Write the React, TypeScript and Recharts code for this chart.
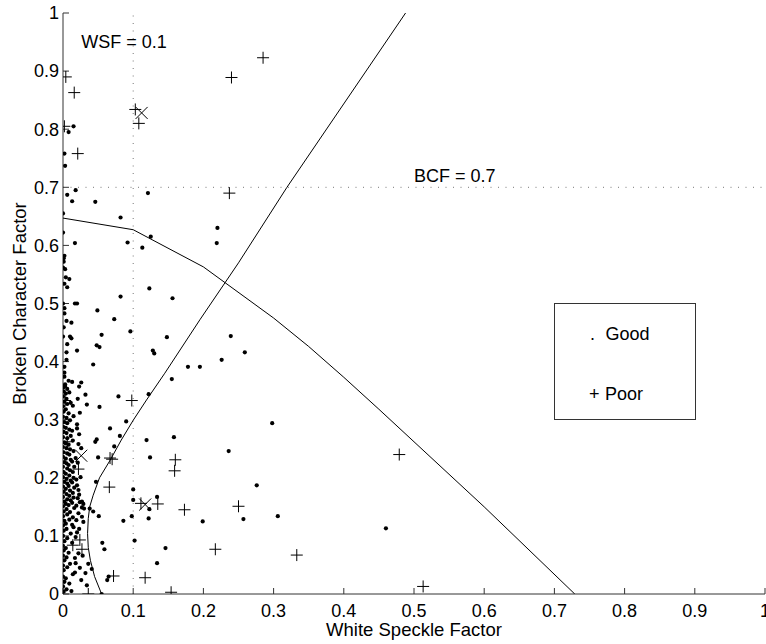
import React from 'react';
import { ScatterChart, Scatter, XAxis, YAxis, ReferenceLine, Legend } from 'recharts';

const FONT = 'Liberation Sans, Arial, Helvetica, sans-serif';

const axisTicks = [0, 0.1, 0.2, 0.3, 0.4, 0.5, 0.6, 0.7, 0.8, 0.9, 1];
const tickLabels = ['0', '0.1', '0.2', '0.3', '0.4', '0.5', '0.6', '0.7', '0.8', '0.9', '1'];

const wsfThreshold = 0.1;
const bcfThreshold = 0.7;

// "Good" samples [WSF, BCF]
const goodPoints: [number, number][] = [
  // upper region
  [0.018, 0.695], [0.006, 0.687], [0.013, 0.676], [0.046, 0.675], [0.121, 0.69], [0.0, 0.655],
  [0.082, 0.648], [0.125, 0.615], [0.0, 0.622], [0.017, 0.604], [0.092, 0.605], [0.113, 0.596],
  [0.22, 0.63], [0.219, 0.604], [0.002, 0.758], [0.003, 0.737], [0.015, 0.805], [0.008, 0.795],
  [0.002, 0.582], [0.001, 0.578], [0.001, 0.572], [0.0, 0.562], [0.003, 0.559], [0.004, 0.545],
  [0.009, 0.542], [0.002, 0.534], [0.006, 0.528], [0.123, 0.526], [0.156, 0.509], [0.082, 0.512],
  [0.0, 0.5], [0.017, 0.5], [0.02, 0.5], [0.002, 0.492], [0.049, 0.488], [0.002, 0.483],
  [0.073, 0.473], [0.005, 0.47], [0.012, 0.467], [0.001, 0.459], [0.096, 0.452], [0.055, 0.446],
  [0.148, 0.442], [0.239, 0.444], [0.0, 0.443], [0.01, 0.443], [0.012, 0.44], [0.006, 0.43],
  [0.048, 0.428], [0.052, 0.425], [0.02, 0.419], [0.005, 0.416], [0.128, 0.419], [0.13, 0.414],
  [0.259, 0.416], [0.226, 0.403], [0.005, 0.403], [0.043, 0.395], [0.178, 0.391], [0.195, 0.391],
  [0.002, 0.391], [0.002, 0.381], [0.155, 0.37], [0.002, 0.374], [0.008, 0.367], [0.013, 0.365],
  [0.026, 0.364], [0.003, 0.361], [0.023, 0.357], [0.001, 0.356],
  // lower region
  [0.298, 0.294], [0.158, 0.27], [0.236, 0.246], [0.276, 0.187], [0.199, 0.125], [0.257, 0.129],
  [0.306, 0.134], [0.146, 0.079], [0.46, 0.113],
  [0.032, 0.343], [0.034, 0.326], [0.079, 0.34], [0.052, 0.322], [0.122, 0.344], [0.09, 0.297],
  [0.02, 0.292], [0.067, 0.285], [0.081, 0.272], [0.119, 0.265], [0.048, 0.266], [0.046, 0.262],
  [0.023, 0.275], [0.073, 0.254], [0.124, 0.235], [0.05, 0.235], [0.018, 0.234], [0.019, 0.197],
  [0.047, 0.193], [0.1, 0.18], [0.022, 0.179], [0.1, 0.162], [0.123, 0.146], [0.038, 0.147],
  [0.043, 0.142], [0.051, 0.134], [0.098, 0.134], [0.086, 0.126], [0.027, 0.133], [0.029, 0.124],
  [0.013, 0.119], [0.102, 0.092], [0.056, 0.088], [0.059, 0.077], [0.134, 0.053], [0.022, 0.07],
  [0.017, 0.062], [0.028, 0.066], [0.018, 0.053], [0.036, 0.052], [0.041, 0.043], [0.017, 0.037],
  [0.032, 0.036], [0.065, 0.03], [0.026, 0.024], [0.034, 0.015], [0.063, 0.024], [0.055, 0.0],
  [0.134, 0.167], [0.122, 0.13],
  // dense column near WSF = 0
  [0.001, 0.004], [0.0, 0.013], [0.002, 0.021], [0.0, 0.03], [0.001, 0.041], [0.0, 0.049],
  [0.002, 0.058], [0.0, 0.066], [0.001, 0.075], [0.0, 0.083], [0.002, 0.091], [0.0, 0.1],
  [0.001, 0.109], [0.0, 0.118], [0.002, 0.126], [0.0, 0.134], [0.001, 0.142], [0.0, 0.151],
  [0.002, 0.159], [0.0, 0.167], [0.001, 0.176], [0.0, 0.185], [0.002, 0.193], [0.0, 0.201],
  [0.001, 0.21], [0.0, 0.219], [0.002, 0.227], [0.0, 0.236], [0.001, 0.244], [0.0, 0.253],
  [0.002, 0.261], [0.0, 0.27], [0.001, 0.279], [0.0, 0.288], [0.002, 0.296], [0.0, 0.305],
  [0.001, 0.314], [0.0, 0.323], [0.002, 0.331], [0.0, 0.34], [0.001, 0.349], [0.003, 0.358],
  [0.005, 0.008], [0.004, 0.027], [0.006, 0.046], [0.005, 0.063], [0.004, 0.079], [0.006, 0.096],
  [0.005, 0.112], [0.004, 0.121], [0.006, 0.137], [0.005, 0.146], [0.004, 0.155], [0.006, 0.163],
  [0.005, 0.172], [0.004, 0.181], [0.006, 0.19], [0.005, 0.198], [0.004, 0.207], [0.006, 0.216],
  [0.005, 0.225], [0.004, 0.233], [0.006, 0.242], [0.005, 0.251], [0.004, 0.259], [0.006, 0.268],
  [0.005, 0.277], [0.004, 0.286], [0.006, 0.294], [0.005, 0.303], [0.004, 0.318], [0.006, 0.327],
  [0.005, 0.336], [0.004, 0.345], [0.006, 0.353],
  [0.009, 0.018], [0.01, 0.052], [0.008, 0.071], [0.011, 0.104], [0.009, 0.128], [0.01, 0.141],
  [0.008, 0.153], [0.011, 0.161], [0.009, 0.169], [0.01, 0.178], [0.008, 0.186], [0.011, 0.195],
  [0.009, 0.204], [0.01, 0.213], [0.008, 0.222], [0.011, 0.231], [0.009, 0.24], [0.01, 0.249],
  [0.008, 0.257], [0.011, 0.272], [0.009, 0.283], [0.01, 0.299], [0.008, 0.311], [0.011, 0.329],
  [0.009, 0.347],
  [0.014, 0.034], [0.013, 0.088], [0.015, 0.115], [0.014, 0.132], [0.016, 0.148], [0.013, 0.157],
  [0.015, 0.166], [0.014, 0.174], [0.016, 0.183], [0.013, 0.192], [0.015, 0.2], [0.014, 0.21],
  [0.016, 0.219], [0.013, 0.228], [0.015, 0.246], [0.014, 0.264], [0.013, 0.281], [0.015, 0.306],
  [0.014, 0.324],
  [0.02, 0.106], [0.022, 0.139], [0.019, 0.152], [0.024, 0.158], [0.021, 0.165], [0.027, 0.149],
  [0.03, 0.147], [0.023, 0.171], [0.02, 0.187], [0.025, 0.201], [0.021, 0.226], [0.026, 0.251],
  [0.022, 0.258], [0.02, 0.285], [0.024, 0.312], [0.021, 0.336], [0.027, 0.159], [0.029, 0.155],
  [0.019, 0.127], [0.023, 0.112], [0.018, 0.098], [0.024, 0.045], [0.012, 0.005],
];

// "Poor" samples [WSF, BCF]
const poorPoints: [number, number][] = [
  [0.004, 0.89], [0.016, 0.863], [0.002, 0.805], [0.021, 0.758], [0.103, 0.834], [0.108, 0.81],
  [0.285, 0.923], [0.24, 0.889], [0.237, 0.69], [0.16, 0.231], [0.159, 0.212], [0.173, 0.145],
  [0.25, 0.151], [0.217, 0.077], [0.333, 0.067], [0.154, 0.003], [0.479, 0.24], [0.513, 0.013],
  [0.098, 0.333], [0.003, 0.333], [0.006, 0.262], [0.022, 0.215], [0.067, 0.234], [0.07, 0.232],
  [0.066, 0.184], [0.111, 0.156], [0.135, 0.155], [0.024, 0.093], [0.014, 0.084], [0.027, 0.077],
  [0.072, 0.031], [0.117, 0.028], [0.036, 0.0],
];

// cluster centres (x markers)
const centerPoints: [number, number][] = [
  [0.112, 0.828], [0.026, 0.238], [0.117, 0.154],
];

// decision boundaries
const boundaryCurve: [number, number][] = [
  [0.055, 0], [0.045, 0.03], [0.039, 0.058], [0.036, 0.08], [0.035, 0.104], [0.036, 0.13],
  [0.038, 0.15], [0.043, 0.17], [0.052, 0.2], [0.067, 0.23], [0.083, 0.265], [0.1, 0.299],
  [0.119, 0.334], [0.145, 0.38], [0.195, 0.472], [0.25, 0.57], [0.319, 0.7], [0.488, 1.0],
];

const boundaryLinear: [number, number][] = [
  [0, 0.647], [0.1, 0.627], [0.2, 0.563], [0.3, 0.475], [0.35, 0.426], [0.4, 0.373],
  [0.45, 0.318], [0.5, 0.262], [0.6, 0.15], [0.729, 0],
];

const toXY = (arr: [number, number][]) => arr.map(([x, y]) => ({ x, y }));

const DotShape = (p: any) => <circle cx={p.cx} cy={p.cy} r={2.1} fill="#000" />;
const PlusShape = (p: any) => (
  <path
    d={`M${p.cx - 6},${p.cy}H${p.cx + 6}M${p.cx},${p.cy - 6}V${p.cy + 6}`}
    stroke="#000"
    strokeWidth={1}
    fill="none"
  />
);
const XShape = (p: any) => (
  <path
    d={`M${p.cx - 6},${p.cy - 6}L${p.cx + 6},${p.cy + 6}M${p.cx - 6},${p.cy + 6}L${p.cx + 6},${p.cy - 6}`}
    stroke="#000"
    strokeWidth={1}
    fill="none"
  />
);
const NoShape = () => <g />;

const tickStyle = { fill: '#000', fontSize: 18, fontFamily: FONT };

const LegendBox = () => (
  <svg width={142} height={118} style={{ display: 'block' }}>
    <rect x={0.5} y={0.5} width={141} height={116} fill="#fff" stroke="#333" strokeWidth={1} />
    <text x={36} y={37} fontSize={18} fontFamily={FONT} fill="#000">.</text>
    <text x={51.5} y={37} fontSize={18} fontFamily={FONT} fill="#000">Good</text>
    <text x={35} y={96.5} fontSize={18} fontFamily={FONT} fill="#000">+</text>
    <text x={51} y={96.5} fontSize={18} fontFamily={FONT} fill="#000">Poor</text>
  </svg>
);

export default function App() {
  return (
    <div style={{ position: 'absolute', left: 0, top: 0, background: '#fff' }}>
      <ScatterChart width={766} height={644} margin={{ top: 13, right: 1, bottom: 0, left: 0 }}>
        <XAxis
          dataKey="x"
          type="number"
          domain={[0, 1]}
          ticks={axisTicks}
          interval={0}
          allowDataOverflow
          tickFormatter={(v: number) => tickLabels[axisTicks.indexOf(v)] ?? String(v)}
          tickSize={-6}
          tickMargin={16}
          height={50}
          axisLine={{ stroke: '#333', strokeWidth: 1 }}
          tickLine={{ stroke: '#333', strokeWidth: 1 }}
          tick={tickStyle}
          label={(props: any) => {
            const vb = props.viewBox || { x: 63, y: 594, width: 702 };
            return (
              <text x={vb.x + vb.width / 2} y={vb.y + 42} textAnchor="middle" fontSize={18.5} fontFamily={FONT} fill="#000">
                White Speckle Factor
              </text>
            );
          }}
        />
        <YAxis
          dataKey="y"
          type="number"
          domain={[0, 1]}
          ticks={axisTicks}
          interval={0}
          allowDataOverflow
          tickFormatter={(v: number) => tickLabels[axisTicks.indexOf(v)] ?? String(v)}
          tickSize={-6}
          tickMargin={10}
          width={63}
          axisLine={{ stroke: '#333', strokeWidth: 1 }}
          tickLine={{ stroke: '#333', strokeWidth: 1 }}
          tick={tickStyle}
          label={(props: any) => {
            const vb = props.viewBox || { x: 0, y: 13, width: 63, height: 581 };
            const cy = vb.y + vb.height / 2;
            return (
              <text x={26} y={cy} transform={`rotate(-90 26 ${cy})`} textAnchor="middle" fontSize={18.5} fontFamily={FONT} fill="#000">
                Broken Character Factor
              </text>
            );
          }}
        />
        <ReferenceLine
          x={wsfThreshold}
          stroke="#777"
          strokeWidth={1}
          strokeDasharray="1 6.5"
          label={(props: any) => {
            const vb = props.viewBox;
            return (
              <text x={vb.x - 52} y={vb.y + 35} fontSize={18} fontFamily={FONT} fill="#000">
                WSF = 0.1
              </text>
            );
          }}
        />
        <ReferenceLine
          y={bcfThreshold}
          stroke="#777"
          strokeWidth={1}
          strokeDasharray="1 6.5"
          label={(props: any) => {
            const vb = props.viewBox;
            return (
              <text x={vb.x + 351} y={vb.y - 5} fontSize={18} fontFamily={FONT} fill="#000">
                BCF = 0.7
              </text>
            );
          }}
        />
        <Scatter
          name="boundary1"
          data={toXY(boundaryCurve)}
          line={{ stroke: '#000', strokeWidth: 1 }}
          lineType="joint"
          shape={NoShape}
          legendType="none"
          isAnimationActive={false}
        />
        <Scatter
          name="boundary2"
          data={toXY(boundaryLinear)}
          line={{ stroke: '#000', strokeWidth: 1 }}
          lineType="joint"
          shape={NoShape}
          legendType="none"
          isAnimationActive={false}
        />
        <Scatter name="Good" data={toXY(goodPoints)} shape={DotShape} isAnimationActive={false} />
        <Scatter name="Poor" data={toXY(poorPoints)} shape={PlusShape} isAnimationActive={false} />
        <Scatter name="Centre" data={toXY(centerPoints)} shape={XShape} legendType="none" isAnimationActive={false} />
        <Legend
          layout="vertical"
          align="center"
          verticalAlign="middle"
          wrapperStyle={{ position: 'absolute', left: 554, top: 303, width: 142, height: 118, margin: 0, padding: 0 }}
          content={() => <LegendBox />}
        />
      </ScatterChart>
    </div>
  );
}
